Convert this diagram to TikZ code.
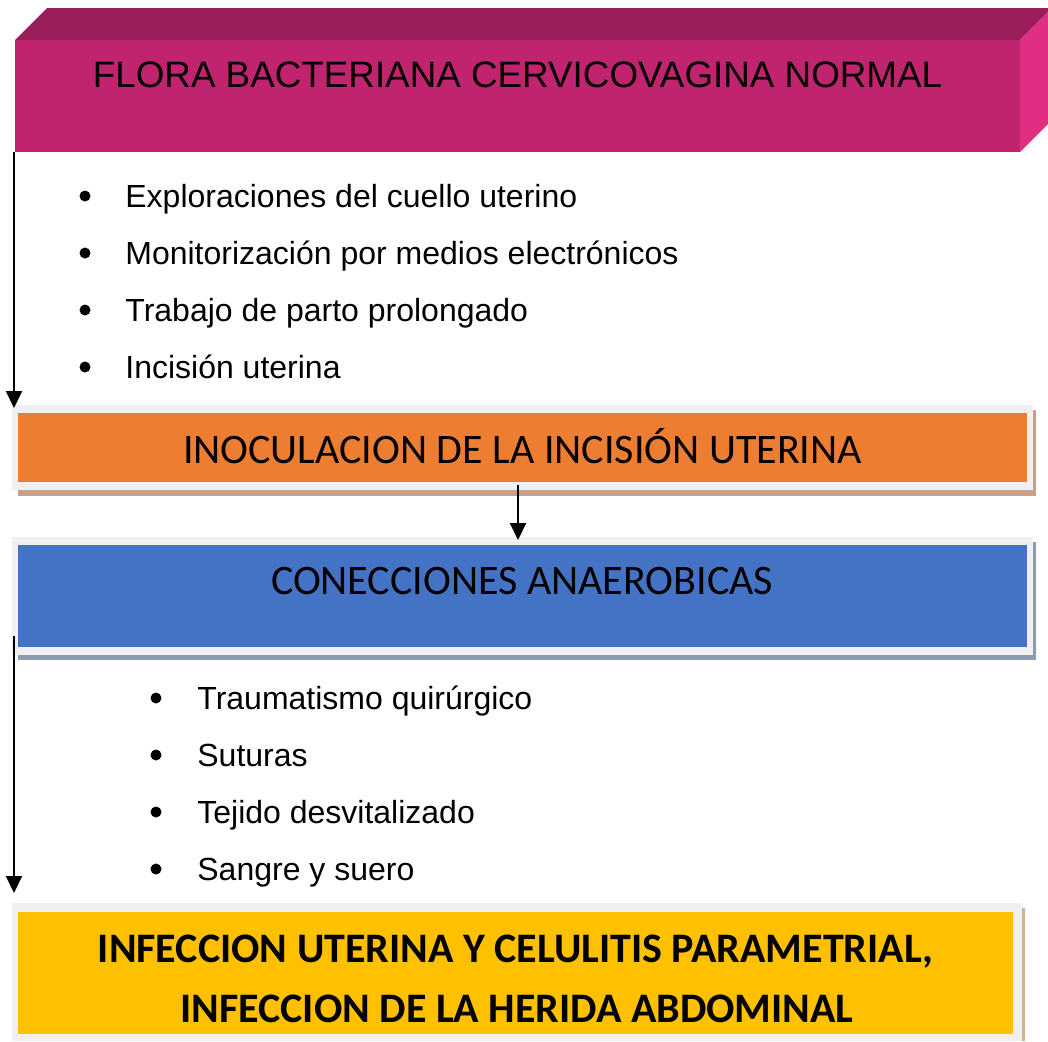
\documentclass[tikz,border=0pt]{standalone}
\usepackage{fontspec}
\setmainfont{Liberation Sans}
\newfontfamily\calibri{Carlito}
\usetikzlibrary{arrows.meta}
\definecolor{floraFront}{HTML}{C0246F}
\definecolor{floraTop}{HTML}{9A1E59}
\definecolor{floraSide}{HTML}{E02E82}
\definecolor{inocOrange}{HTML}{ED7D31}
\definecolor{anaeBlue}{HTML}{4472C4}
\definecolor{infeYellow}{HTML}{FFC000}
\definecolor{frameGray}{HTML}{F0F0F0}
\definecolor{shadowBrown}{HTML}{C8A088}
\definecolor{shadowSlate}{HTML}{8C9AB2}
\definecolor{shadowTan}{HTML}{CDB88C}
\tikzset{
  flecha/.style={-{Triangle[length=8.5pt,width=8pt]}, line width=1pt},
  vineta/.style={circle, fill=black, inner sep=0pt, minimum size=5.5pt},
  itemtxt/.style={anchor=base west, inner sep=0pt, font=\fontsize{16}{19}\selectfont},
  caja/.style={anchor=north west, inner sep=0pt, outer sep=0pt},
  titulo/.style={anchor=base, inner sep=0pt, font=\fontsize{18.4}{22}\selectfont},
  cajatxt/.style={anchor=base, inner sep=0pt, font=\calibri\fontsize{21}{25}\selectfont},
  cajanegrita/.style={anchor=base, inner sep=0pt, font=\calibri\bfseries\fontsize{21}{25}\selectfont}
}
\begin{document}
\begin{tikzpicture}[x=0.5pt,y=-0.5pt]
\useasboundingbox (0,0) rectangle (1048,1041);
% caja 3D de la flora
\fill[floraTop] (15,40) -- (47,8) -- (1052,8) -- (1020,40) -- cycle;
\fill[floraSide] (1020,40) -- (1052,8) -- (1052,120) -- (1020,152) -- cycle;
\node[caja, fill=floraFront, minimum width=502.5pt, minimum height=56pt] (flora) at (15,40) {};
\node[titulo] (floratxt) at (517.5,87) {FLORA BACTERIANA CERVICOVAGINA NORMAL};
% primera lista
\foreach \txt [count=\i] in {Exploraciones del cuello uterino, Monitorización por medios electrónicos, Trabajo de parto prolongado, Incisión uterina}{
  \node[vineta] (va\i) at (85,{139+57*\i}) {};
  \node[itemtxt] (ta\i) at (125,{150+57*\i}) {\txt};
}
% inoculacion
\fill[shadowBrown] (18,410) rectangle (1036,496);
\fill[frameGray] (12,405) rectangle (1033,490);
\node[caja, fill=inocOrange, minimum width=504.5pt, minimum height=34.5pt] (inoc) at (18,413) {};
\node[cajatxt] (inoctxt) at (522.5,463) {INOCULACION DE LA INCISIÓN UTERINA};
% conecciones
\fill[shadowSlate] (18,542) rectangle (1036,660);
\fill[frameGray] (12,537) rectangle (1033,655);
\node[caja, fill=anaeBlue, minimum width=504.5pt, minimum height=51pt] (anae) at (18,545) {};
\node[cajatxt] (anaetxt) at (522,594) {CONECCIONES ANAEROBICAS};
% segunda lista
\foreach \txt [count=\i] in {Traumatismo quirúrgico, Suturas, Tejido desvitalizado, Sangre y suero}{
  \node[vineta] (vb\i) at (156,{641+57*\i}) {};
  \node[itemtxt] (tb\i) at (197,{652+57*\i}) {\txt};
}
% infeccion
\fill[shadowTan] (1019,908) rectangle (1025,1041);
\fill[frameGray] (12,903) rectangle (1022,1041);
\node[caja, fill=infeYellow, minimum width=497.5pt, minimum height=61pt] (infe) at (18,912) {};
\node[cajanegrita] (infetxta) at (515.5,962) {INFECCION UTERINA Y CELULITIS PARAMETRIAL,};
\node[cajanegrita] (infetxtb) at (517,1022) {INFECCION DE LA HERIDA ABDOMINAL};
% flechas
\coordinate (a1) at (14,152);
\coordinate (b1) at (14,408);
\coordinate (a2) at (518,485);
\coordinate (b2) at (518,540);
\coordinate (a3) at (14,636);
\coordinate (b3) at (14,893);
\draw[flecha] (a1) -- (b1);
\draw[flecha] (a2) -- (b2);
\draw[flecha] (a3) -- (b3);
\end{tikzpicture}
\end{document}
